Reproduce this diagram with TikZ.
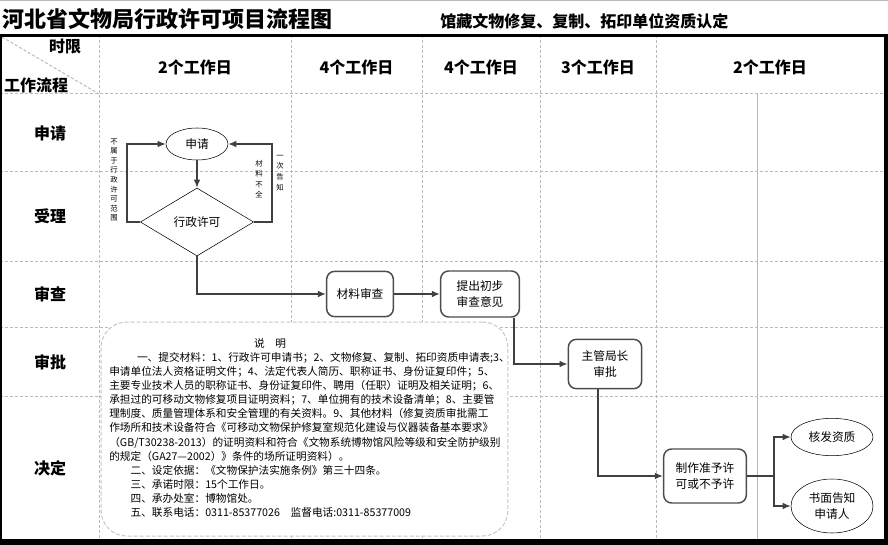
\documentclass[tikz,border=0pt]{standalone}
\usepackage{fontspec}
\setmainfont{Noto Sans CJK SC}
\usetikzlibrary{arrows.meta,shapes.geometric}

\begin{document}
\begin{tikzpicture}[
  x=0.75pt, y=-0.75pt,
  grid/.style={draw=black!27, line width=0.75pt, dash pattern=on 2.25pt off 1.5pt},
  frame/.style={draw=black, line width=2pt},
  headtext/.style={font=\fontsize{12}{14}\selectfont\bfseries},
  startnode/.style={draw, thin, ellipse, fill=white, inner sep=0pt, align=center, font=\fontsize{8.8}{12}\selectfont},
  decide/.style={draw, thin, diamond, fill=white, inner sep=0pt, aspect=1.66, minimum width=85pt, minimum height=51pt, font=\fontsize{8.8}{12}\selectfont},
  procbox/.style={draw=black!70, line width=1.1pt, rectangle, rounded corners=6pt, fill=white, align=center, inner sep=0pt, font=\fontsize{8.8}{12}\selectfont},
  vlabel/.style={align=center, inner sep=0pt, font=\fontsize{5.5}{7.2}\selectfont},
  notebox/.style={draw=black!22, line width=0.75pt, dash pattern=on 3pt off 1.5pt, rounded corners=19pt, fill=white},
  notetext/.style={align=left, inner sep=0pt, font=\fontsize{8}{10.6}\selectfont},
  flow/.style={draw=black!75, line width=1.1pt},
  >={Latex[length=6pt,width=5pt]}
]

\useasboundingbox (0,0) rectangle (888,545);

% Grid
\foreach \x in {99,291,422,540,656}
  \draw[grid] (\x,35) -- (\x,540);
\foreach \y in {94,172,261,327,396}
  \draw[grid] (0,\y) -- (884,\y);
\draw[black!27, line width=0.75pt] (757,94) -- (757,540);
\draw[grid] (2,37) -- (99,94);

% Frame
\draw[black!27, line width=0.75pt] (0,0.5) -- (888,0.5);
\draw[frame] (0,35.5) -- (888,35.5);
\draw[frame, line width=1.5pt] (1,35) -- (1,541);
\draw[frame, line width=3pt] (886,35) -- (886,541);
\draw[frame, line width=5pt] (0,542) -- (888,542);

% Titles
\node[anchor=west, inner sep=0pt, font=\fontsize{16.5}{18}\selectfont\bfseries] (title) at (2,19) {河北省文物局行政许可项目流程图};
\node[anchor=west, inner sep=0pt, font=\fontsize{12}{14}\selectfont\bfseries] (subtitle) at (440,21) {馆藏文物修复、复制、拓印单位资质认定};

% Header
\node[headtext] (limit) at (65,47) {时限};
\node[headtext] (process) at (36,85) {工作流程};
\foreach \a/\b/\t [count=\i] in {99/291/2, 291/422/4, 422/540/4, 540/656/3, 656/884/2}
  \node[headtext] (col\i) at ({(\a+\b)/2},67) {\t 个工作日};
\foreach \y/\t [count=\i] in {133/申请, 216/受理, 294/审查, 362/审批, 468/决定}
  \node[headtext] (row\i) at (50,\y) {\t};

% Note
\node[notebox, minimum width=305pt, minimum height=160.5pt] (note) at (304.5,429) {};
\node[notetext] (notetitle) at (270,343) {说\quad 明};
\node[notetext, anchor=north west] (notebody) at (109,352) {%
\hspace*{2.6em}一、提交材料：1、行政许可申请书；2、文物修复、复制、拓印资质申请表;3、\\
申请单位法人资格证明文件；4、法定代表人简历、职称证书、身份证复印件；5、\\
主要专业技术人员的职称证书、身份证复印件、聘用（任职）证明及相关证明；6、\\
承担过的可移动文物修复项目证明资料；7、单位拥有的技术设备清单；8、主要管\\
理制度、质量管理体系和安全管理的有关资料。9、其他材料（修复资质审批需工\\
作场所和技术设备符合《可移动文物保护修复室规范化建设与仪器装备基本要求》\\
（GB/T30238-2013）的证明资料和符合《文物系统博物馆风险等级和安全防护级别\\
的规定（GA27—2002）》条件的场所证明资料）。\\
\hspace*{2em}二、设定依据：《文物保护法实施条例》第三十四条。\\
\hspace*{2em}三、承诺时限：15个工作日。\\
\hspace*{2em}四、承办处室：博物馆处。\\
\hspace*{2em}五、联系电话：0311-85377026\quad 监督电话:0311-85377009};

% Nodes
\node[startnode, minimum width=46.5pt, minimum height=24pt] (apply) at (197,144) {申请};
\node[decide] (permit) at (197,222) {行政许可};
\node[procbox, minimum width=50pt, minimum height=34pt] (review) at (360,294) {材料审查};
\node[procbox, minimum width=59pt, minimum height=34.5pt] (opinion) at (480,294) {提出初步\\审查意见};
\node[procbox, minimum width=55pt, minimum height=37pt] (chief) at (605,364) {主管局长\\审批};
\node[procbox, minimum width=62pt, minimum height=40.5pt] (issue) at (705,476) {制作准予许\\可或不予许};
\node[startnode, minimum width=61.5pt, minimum height=28pt] (grant) at (832,437) {核发资质};
\node[startnode, minimum width=61.5pt, minimum height=40.5pt] (notify) at (832,506) {书面告知\\申请人};

% Side labels
\node[vlabel] (outscope) at (114,180) {不\\属\\于\\行\\政\\许\\可\\范\\围};
\node[vlabel, font=\fontsize{5.5}{7.8}\selectfont] (lack) at (259,179) {材\\料\\不\\全};
\node[vlabel, font=\fontsize{5.5}{8}\selectfont] (inform) at (280,173) {一\\次\\告\\知};

% Connections
\draw[flow, ->] (apply) -- (permit);
\draw[flow, ->] (permit.west) -- ++(-13,0) |- (apply.west);
\draw[flow, ->] (permit.east) -- ++(18,0) |- (apply.east);
\draw[flow, ->] (permit.south) |- (review.west);
\draw[flow, ->] (review) -- (opinion);
\draw[flow, ->] (opinion.south east) ++(-6,0) |- (chief.west);
\draw[flow, ->] (chief.south) ++(-7,0) |- (issue.west);
\coordinate (fork) at (774,476);
\draw[flow] (issue.east) -- (fork);
\draw[flow, ->] (fork) |- (grant.west);
\draw[flow, ->] (fork) |- (notify.west);

\end{tikzpicture}
\end{document}
